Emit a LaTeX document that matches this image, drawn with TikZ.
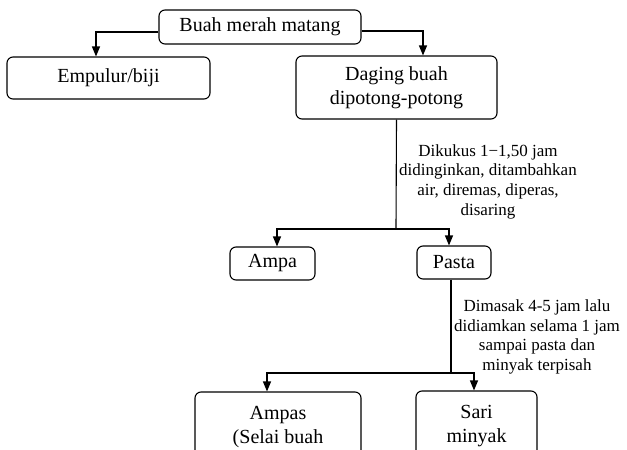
\documentclass[tikz,border=0pt]{standalone}
\usepackage{fontspec}
\setmainfont{Liberation Serif}
\usepackage{xcolor}
\usepackage{tikz}
\usetikzlibrary{arrows.meta}

\begin{document}
\begin{tikzpicture}[x=1pt, y=-1pt,
                kotak/.style={draw, line width=1.1pt, rounded corners=6pt, align=center, inner sep=0pt, font=\fontsize{20}{24}\selectfont},
                ket/.style={align=center, inner sep=0pt, font=\fontsize{17}{19.7}\selectfont},
                panah/.style={-{Triangle[length=10pt, width=8pt]}, line width=1.1pt}]
                \useasboundingbox (0,0) rectangle (627,450);
                \node[kotak, minimum width=202pt, minimum height=34pt](buah) at (260,27){Buah merah matang};
                \node[kotak, minimum width=203pt, minimum height=42pt](empulur) at (108.5,78){Empulur/biji};
                \node[kotak, minimum width=201pt, minimum height=63pt](daging) at (396.5,87.5){Daging buah\\dipotong-potong};
                \node[kotak, minimum width=85pt, minimum height=33pt](ampa) at (272.5,263.5){Ampa};
                \node[kotak, minimum width=74pt, minimum height=33pt](pasta) at (454,262.5){Pasta};
                \node[kotak, minimum width=166pt, minimum height=70pt](ampas) at (278,427){Ampas\\(Selai buah};
                \node[kotak, minimum width=121pt, minimum height=70pt](sari) at (476.5,426){Sari\\minyak};
                
                \node[ket](rebus) at (488,181.5){Dikukus 1−1,50 jam\\didinginkan, ditambahkan\\air, diremas, diperas,\\disaring};
                \node[ket](masak) at (537,337){Dimasak 4-5 jam lalu\\didiamkan selama 1 jam\\sampai pasta dan\\minyak terpisah};
                
                \coordinate (cabang1) at (396,229);
                \coordinate (cabang2) at (451,373);
                
                \draw[panah] ([yshift=-5pt]buah.west) -| ([xshift=-12.5pt]empulur.north);
                \draw[panah] ([yshift=-4pt]buah.east) -| ([xshift=26.5pt]daging.north);
                \draw[line width=1.1pt] (daging.south) -- (cabang1);
                \draw[panah] (cabang1) -| ([xshift=4.5pt]ampa.north);
                \draw[panah] (cabang1) -| ([xshift=-5pt]pasta.north);
                \draw[line width=1.1pt] ([xshift=-3pt]pasta.south) -- (cabang2);
                \draw[panah] (cabang2) -| ([xshift=-11pt]ampas.north);
                \draw[panah] (cabang2) -| ([xshift=-2.5pt]sari.north);
              \end{tikzpicture}
\end{document}
